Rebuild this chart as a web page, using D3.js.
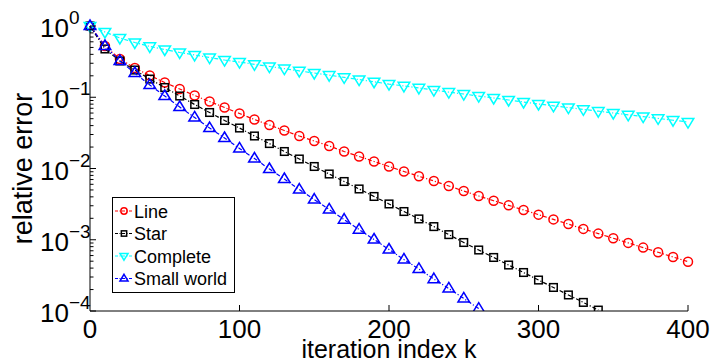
<!DOCTYPE html>
<html>
<head>
<meta charset="utf-8">
<script src="https://cdn.jsdelivr.net/npm/d3@7"></script>
<style>
  body { margin: 0; background: #fff; }
  text { font-family: Arial, "Liberation Sans", Helvetica, sans-serif; }
</style>
</head>
<body>
<div id="chart"></div>
<script>
// iteration index, one marker every 10 steps
var kLine = d3.range(0, 401, 10);
var kStar = d3.range(0, 341, 10);
var kSmall = d3.range(0, 261, 10);

// relative error
var lineErr = [1, 0.524, 0.344, 0.257, 0.202, 0.161, 0.1305, 0.1058, 0.0872, 0.0718,
  0.0591, 0.0487, 0.0408, 0.0341, 0.0286, 0.0243, 0.0207, 0.01732, 0.01474, 0.01254,
  0.01067, 0.00908, 0.00777, 0.00668, 0.00568, 0.00483, 0.00411, 0.00353, 0.00304, 0.00262,
  0.00225, 0.00193, 0.00166, 0.00142, 0.00122, 0.00105, 0.000903, 0.000776, 0.000667, 0.000573,
  0.000492];
var starErr = [1, 0.476, 0.323, 0.241, 0.180, 0.137, 0.1041, 0.0791, 0.0611, 0.0472,
  0.0370, 0.0286, 0.0224, 0.01732, 0.01359, 0.01067, 0.00837, 0.00657, 0.00516, 0.00405,
  0.00318, 0.00249, 0.00196, 0.00153, 0.00118, 0.000915, 0.000718, 0.000564, 0.000442, 0.000347,
  0.000272, 0.000214, 0.000168, 0.000132, 0.000103];
var completeErr = [1, 0.824, 0.679, 0.587, 0.516, 0.468, 0.425, 0.392, 0.361, 0.333,
  0.312, 0.290, 0.270, 0.252, 0.234, 0.219, 0.204, 0.190, 0.177, 0.165,
  0.153, 0.144, 0.135, 0.126, 0.118, 0.111, 0.104, 0.0976, 0.0915, 0.0858,
  0.0804, 0.0759, 0.0716, 0.0675, 0.0637, 0.0601, 0.0567, 0.0535, 0.0505, 0.0476,
  0.0449];
var smallErr = [1, 0.524, 0.323, 0.219, 0.1485, 0.1041, 0.0730, 0.0520, 0.0370, 0.0268,
  0.0191, 0.01381, 0.00984, 0.00712, 0.00507, 0.00367, 0.00266, 0.00192, 0.00139, 0.001008,
  0.000730, 0.000528, 0.000389, 0.000281, 0.000207, 0.000150, 0.000108];

var xTicks = [0, 100, 200, 300, 400];
var yTicks = [0, -1, -2, -3, -4]; // exponents

var series = [
  { name: "Line", k: kLine, v: lineErr, color: "#ff0000", marker: "circle" },
  { name: "Star", k: kStar, v: starErr, color: "#000000", marker: "square" },
  { name: "Complete", k: kLine, v: completeErr, color: "#00ffff", marker: "down" },
  { name: "Small world", k: kSmall, v: smallErr, color: "#0000ff", marker: "up" }
];

var width = 710, height = 364;
var pLeft = 90, pRight = 688, pTop = 26, pBottom = 311;

var svg = d3.select("#chart").append("svg")
  .attr("width", width).attr("height", height);

var x = d3.scaleLinear().domain([0, 400]).range([pLeft, pRight]);
var y = d3.scaleLog().domain([1e-4, 1]).range([pBottom, pTop]);

svg.append("defs").append("clipPath").attr("id", "clip")
  .append("rect").attr("x", pLeft - 8).attr("y", pTop - 8)
  .attr("width", pRight - pLeft + 16).attr("height", pBottom - pTop + 8);

// draw a marker shape at (cx, cy)
function drawMarker(g, type, cx, cy, s, color) {
  if (type == "circle") {
    g.append("circle").attr("cx", cx).attr("cy", cy).attr("r", s * 0.45)
      .attr("fill", "none").attr("stroke", color).attr("stroke-width", 1.5);
  } else if (type == "square") {
    g.append("rect").attr("x", cx - s * 0.38).attr("y", cy - s * 0.38)
      .attr("width", s * 0.76).attr("height", s * 0.76)
      .attr("fill", "none").attr("stroke", color).attr("stroke-width", 1.5);
  } else {
    var h = s * 0.6, w = s * 0.58;
    var pts = type == "up"
      ? [[cx, cy - h], [cx + w, cy + h * 0.6], [cx - w, cy + h * 0.6]]
      : [[cx, cy + h], [cx + w, cy - h * 0.6], [cx - w, cy - h * 0.6]];
    g.append("polygon").attr("points", pts.map(function(p) { return p.join(","); }).join(" "))
      .attr("fill", "none").attr("stroke", color).attr("stroke-width", 1.5);
  }
}

var plot = svg.append("g").attr("clip-path", "url(#clip)");
var line = d3.line().x(function(d) { return x(d[0]); }).y(function(d) { return y(d[1]); });

series.forEach(function(s) {
  var pts = s.k.map(function(k, i) { return [k, s.v[i]]; });
  plot.append("path").datum(pts).attr("d", line)
    .attr("fill", "none").attr("stroke", s.color).attr("stroke-width", 1.2)
    .attr("stroke-dasharray", "4,2,1.2,2");
  var g = plot.append("g");
  pts.forEach(function(p) {
    drawMarker(g, s.marker, x(p[0]), y(p[1]), 10, s.color);
  });
});

// axes (box off, ticks point inward)
var ax = svg.append("g").attr("stroke", "#000").attr("stroke-width", 1);
ax.append("line").attr("x1", pLeft).attr("x2", pLeft).attr("y1", pTop).attr("y2", pBottom);
ax.append("line").attr("x1", pLeft).attr("x2", pRight).attr("y1", pBottom).attr("y2", pBottom);

xTicks.forEach(function(t) {
  if (t > 0) ax.append("line").attr("x1", x(t)).attr("x2", x(t))
    .attr("y1", pBottom).attr("y2", pBottom - 6);
  svg.append("text").attr("x", x(t)).attr("y", 338).attr("text-anchor", "middle")
    .attr("font-size", 26).text(t);
});

y.ticks().forEach(function(t) {
  var major = Math.abs(Math.log10(t) - Math.round(Math.log10(t))) < 1e-9;
  ax.append("line").attr("x1", pLeft).attr("x2", pLeft + (major ? 6 : 3.5))
    .attr("y1", y(t)).attr("y2", y(t));
});

yTicks.forEach(function(e) {
  var t = svg.append("text").attr("x", 40).attr("y", y(Math.pow(10, e)) + 11)
    .attr("font-size", 26);
  t.append("tspan").text("10");
  t.append("tspan").attr("dy", -13).attr("font-size", 19)
    .text(e == 0 ? "0" : "\u2212" + Math.abs(e));
});

svg.append("text").attr("x", (pLeft + pRight) / 2).attr("y", 358)
  .attr("text-anchor", "middle").attr("font-size", 25).text("iteration index k");
svg.append("text").attr("transform", "translate(32," + ((pTop + pBottom) / 2) + ") rotate(-90)")
  .attr("text-anchor", "middle").attr("font-size", 27).text("relative error");

// legend
var lg = svg.append("g");
lg.append("rect").attr("x", 112.5).attr("y", 197.5).attr("width", 122).attr("height", 95)
  .attr("fill", "#fff").attr("stroke", "#000").attr("stroke-width", 1);
series.forEach(function(s, i) {
  var ly = 211 + i * 22.5;
  lg.append("line").attr("x1", 115).attr("x2", 133).attr("y1", ly).attr("y2", ly)
    .attr("stroke", s.color).attr("stroke-width", 1.2).attr("stroke-dasharray", "3,1.5,1,1.5");
  drawMarker(lg, s.marker, 124, ly, 7, s.color);
  lg.append("text").attr("x", 134).attr("y", ly + 6.5).attr("font-size", 18).text(s.name);
});
</script>
</body>
</html>
